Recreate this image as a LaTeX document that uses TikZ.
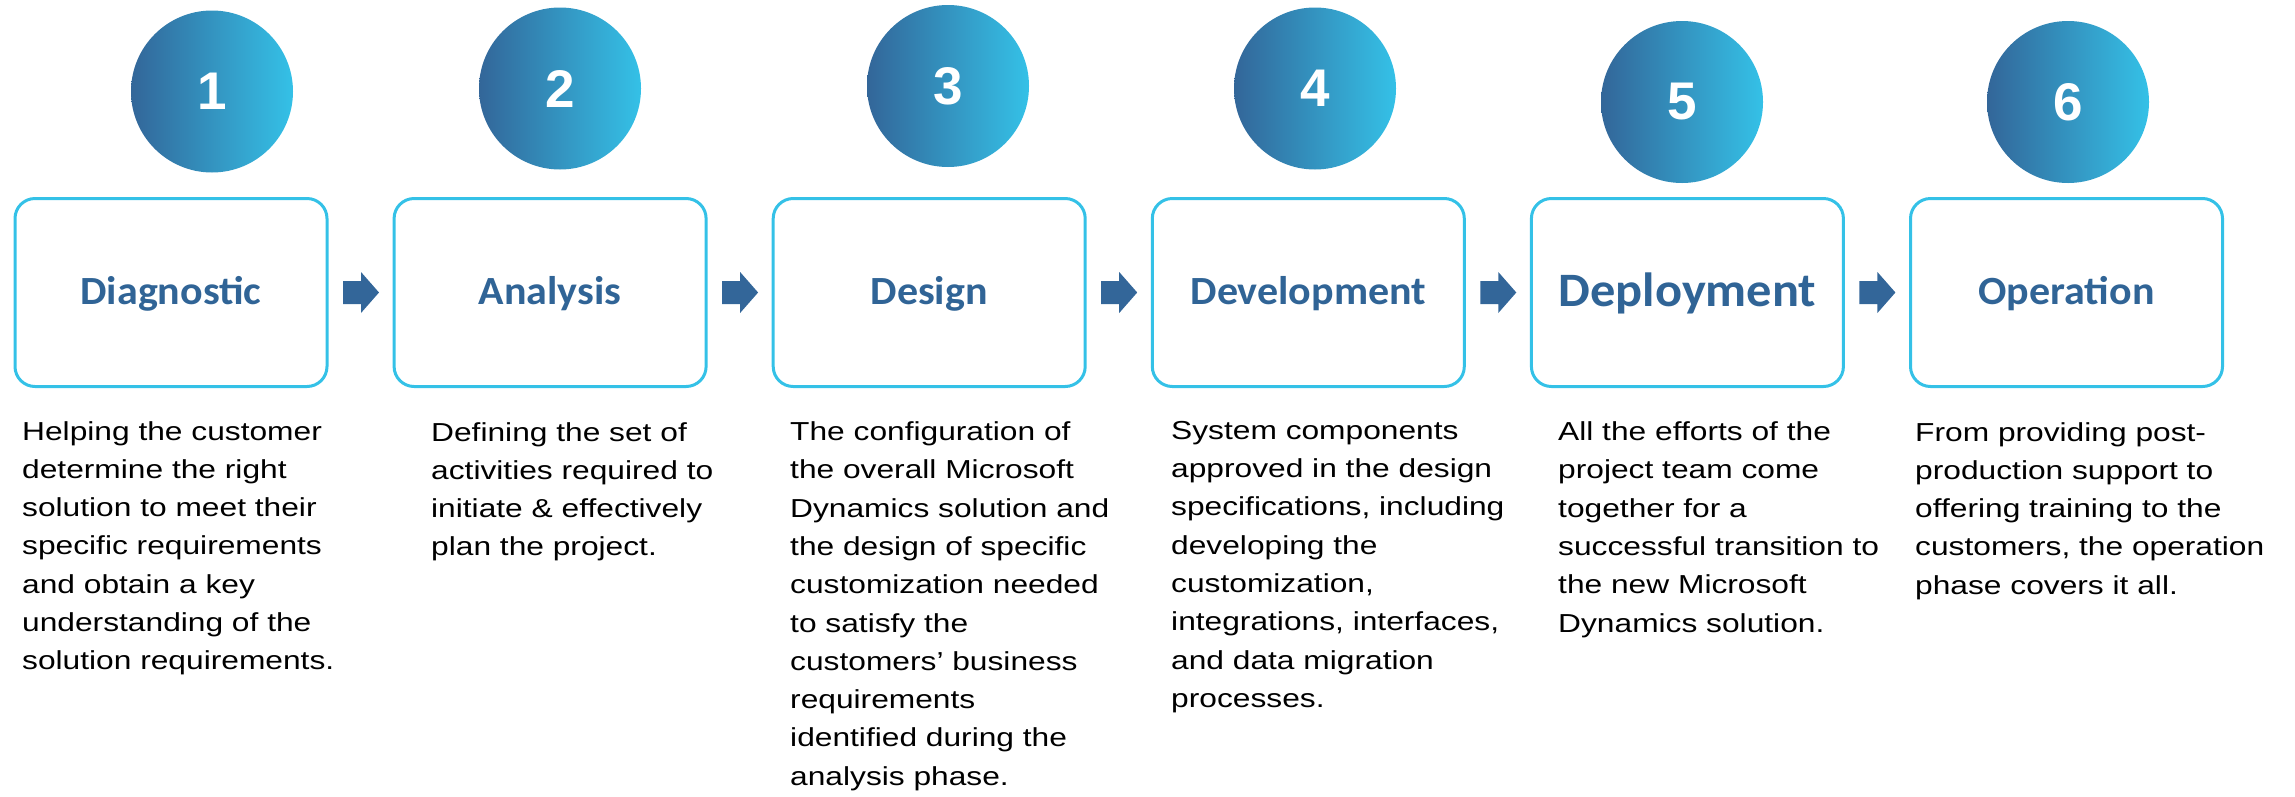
\documentclass[tikz,border=0pt]{standalone}
\usepackage{fontspec}
\setmainfont{Liberation Sans}
\newfontfamily\calfont[FakeStretch=1.05]{Carlito}
\newfontfamily\descfont[FakeStretch=1.22]{Liberation Sans}
\usetikzlibrary{calc}
\definecolor{darkblue}{RGB}{51,102,153}
\definecolor{cyanb}{RGB}{52,193,231}
\definecolor{titleblue}{RGB}{48,100,150}
\begin{document}
\begin{tikzpicture}[x=1pt,y=-1pt,
  stagebox/.style={draw=cyanb, line width=3pt, rounded corners=20pt, minimum width=312pt, minimum height=188pt, inner sep=0pt, font=\calfont\bfseries\fontsize{40}{48}\selectfont, text=titleblue, text height=23pt, text depth=0pt},
  bigtitle/.style={font=\calfont\bfseries\fontsize{48}{56}\selectfont, text height=27pt},
  numcircle/.style={circle, minimum size=162pt, inner sep=0pt, left color=darkblue, right color=cyanb, text=white, font=\bfseries\fontsize{53}{60}\selectfont},
  desc/.style={anchor=north west, inner sep=0pt, align=left, font=\descfont\fontsize{26}{38.3}\selectfont},
  blockarrow/.style={fill=darkblue}
]
\useasboundingbox (0,0) rectangle (2295,796);

% circles
\node[numcircle] (c1) at (212,91.5) {1};
\node[numcircle] (c2) at (560,88.5) {2};
\node[numcircle] (c3) at (948,86) {3};
\node[numcircle] (c4) at (1315,88.5) {4};
\node[numcircle] (c5) at (1682,102) {5};
\node[numcircle] (c6) at (2068,102) {6};

% boxes
\node[stagebox] (b1) at (171,292.5) {Diagnostic};
\node[stagebox] (b2) at (550.1,292.5) {Analysis};
\node[stagebox] (b3) at (929.2,292.5) {Design};
\node[stagebox] (b4) at (1308.3,292.5) {Development};
\node[stagebox,bigtitle] (b5) at (1687.4,292.5) {Deployment};
\node[stagebox] (b6) at (2066.5,292.5) {Operation};

% block arrows
\foreach \i/\j in {1/2,2/3,3/4,4/5,5/6}{
  \fill[blockarrow] ($(b\i.east)+(14.5,-11.5)$) -- ++(18,0) -- ++(0,-9) -- ++(18,20.5) -- ++(-18,20.5) -- ++(0,-9) -- ++(-18,0) -- cycle;
}

% descriptions
\node[desc] (d1) at (22,421) {Helping the customer\\determine the right\\solution to meet their\\specific requirements\\and obtain a key\\understanding of the\\solution requirements.};
\node[desc] (d2) at (431,422) {Defining the set of\\activities required to\\initiate \& effectively\\plan the project.};
\node[desc] (d3) at (790,421.5) {The configuration of\\the overall Microsoft\\Dynamics solution and\\the design of specific\\customization needed\\to satisfy the\\customers’ business\\requirements\\identified during the\\analysis phase.};
\node[desc] (d4) at (1171,421) {System components\\approved in the design\\specifications, including\\developing the\\customization,\\integrations, interfaces,\\and data migration\\processes.};
\node[desc] (d5) at (1558,421.5) {All the efforts of the\\project team come\\together for a\\successful transition to\\the new Microsoft\\Dynamics solution.};
\node[desc] (d6) at (1915,422) {From providing post-\\production support to\\offering training to the\\customers, the operation\\phase covers it all.};
\end{tikzpicture}
\end{document}
